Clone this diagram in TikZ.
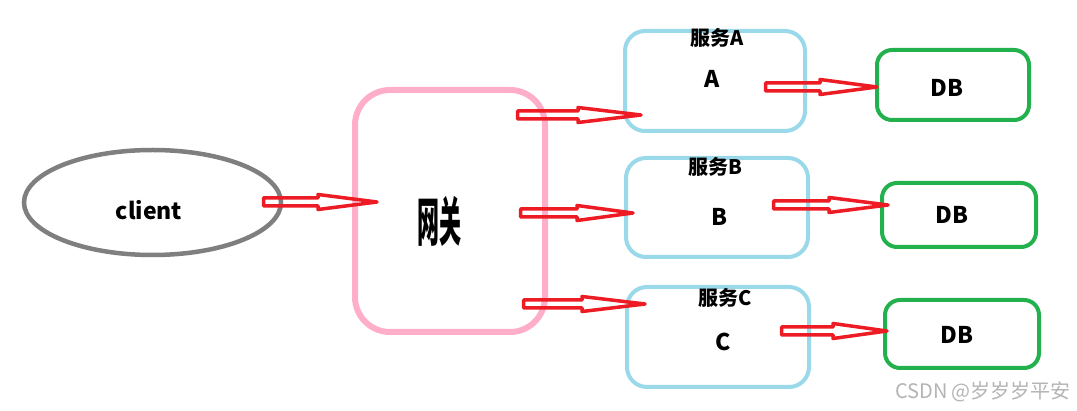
\documentclass[tikz,border=0pt]{standalone}
\usepackage{fontspec}
\usetikzlibrary{calc,shapes.geometric}
\newfontfamily\cjk{Noto Sans CJK SC}
\definecolor{pred}{RGB}{237,28,36}
\definecolor{pgreen}{RGB}{34,177,76}
\definecolor{pblue}{RGB}{153,217,234}
\definecolor{ppink}{RGB}{255,174,201}
\definecolor{pgray}{RGB}{127,127,127}
\definecolor{wmark}{RGB}{180,180,180}
\newcommand\hollowarrow[3]{%
  \draw[harrow] ($(#1)+(0,-4)$) -- ($(#2)+(-#3,-4)$) -- ($(#2)+(-#3,-7.5)$) -- (#2)
    -- ($(#2)+(-#3,7.5)$) -- ($(#2)+(-#3,4)$) -- ($(#1)+(0,4)$) -- cycle;}
\tikzset{
  harrow/.style={draw=pred,line width=3.5pt,line join=round},
  svc/.style={draw=pblue,line width=4pt,rounded corners=20pt,inner sep=0pt},
  dbbox/.style={draw=pgreen,line width=4pt,rounded corners=15pt,inner sep=0pt},
  big/.style={font=\cjk\bfseries\fontsize{23}{23}\selectfont,inner sep=0pt},
  small/.style={font=\cjk\bfseries\fontsize{20}{20}\selectfont,inner sep=0pt},
}
\begin{document}
\begin{tikzpicture}[x=1pt,y=-1pt]
\useasboundingbox[fill=white] (0,0) rectangle (1077,411);
% main shapes
\node[ellipse,draw=pgray,line width=4.5pt,minimum width=257pt,minimum height=105pt,inner sep=0pt] (client) at (152.5,202.5) {};
\node[big] (clienttext) at (149,210) {client};
\node[draw=ppink,line width=6pt,rounded corners=35pt,minimum width=190pt,minimum height=242pt,inner sep=0pt] (gw) at (450,211) {};
\node[inner sep=0pt,font=\cjk\bfseries\fontsize{22}{22}\selectfont] (gwtext) at (439,221) {\scalebox{1}[2.4]{网关}};
\node[svc,minimum width=180pt,minimum height=100pt] (sa) at (715,81) {};
\node[svc,minimum width=182pt,minimum height=99pt] (sb) at (717,207.5) {};
\node[svc,minimum width=182pt,minimum height=100pt] (sc) at (718,337) {};
\node[small] (sat) at (717,38) {服务A};
\node[big] (sal) at (712,79) {A};
\node[small] (sbt) at (715,167) {服务B};
\node[big] (sbl) at (719,217) {B};
\node[small] (sct) at (725,298) {服务C};
\node[big] (scl) at (723,342) {C};
\node[dbbox,minimum width=152pt,minimum height=70pt] (db1) at (953,85) {};
\node[dbbox,minimum width=154pt,minimum height=64pt] (db2) at (959,215) {};
\node[dbbox,minimum width=154pt,minimum height=68pt] (db3) at (962,334) {};
\node[big] (db1t) at (947,88) {DB};
\node[big] (db2t) at (952,215) {DB};
\node[big] (db3t) at (957,335) {DB};
% arrow end points
\coordinate (a1s) at (263.5,202); \coordinate (a1e) at (377,202);
\coordinate (a2s) at (517.5,115); \coordinate (a2e) at (641,115);
\coordinate (a3s) at (520.5,213); \coordinate (a3e) at (633,213);
\coordinate (a4s) at (523.5,304); \coordinate (a4e) at (645,304);
\coordinate (a5s) at (765.5,87); \coordinate (a5e) at (877,87);
\coordinate (a6s) at (773.5,205); \coordinate (a6e) at (888,205);
\coordinate (a7s) at (781.5,331); \coordinate (a7e) at (887,331);
\hollowarrow{a1s}{a1e}{59}
\hollowarrow{a2s}{a2e}{63}
\hollowarrow{a3s}{a3e}{56}
\hollowarrow{a4s}{a4e}{63}
\hollowarrow{a5s}{a5e}{57}
\hollowarrow{a6s}{a6e}{59}
\hollowarrow{a7s}{a7e}{54}
% watermark
\node[inner sep=0pt,text=wmark,font=\cjk\fontsize{20}{20}\selectfont] (wm) at (983,392) {CSDN @岁岁岁平安};
\end{tikzpicture}
\end{document}
